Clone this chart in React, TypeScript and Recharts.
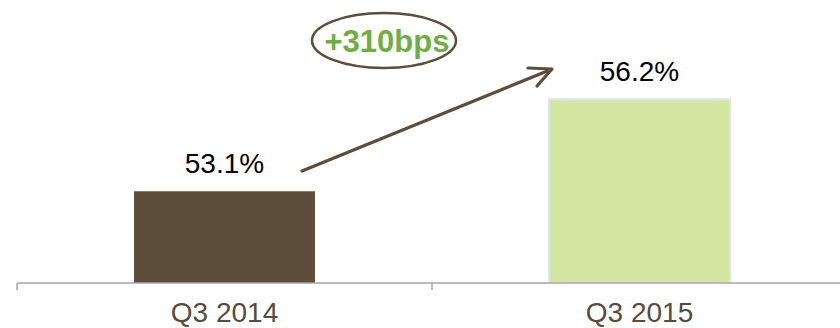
import React from 'react';
import { BarChart, Bar, XAxis, YAxis, Cell, LabelList, Customized } from 'recharts';

const categories = ['Q3 2014', 'Q3 2015'];
const values = [53.1, 56.2];
const valueLabels = ['53.1%', '56.2%'];
const barColors = ['#5C4E3A', '#D3E5A0'];
const barStrokes = ['none', '#DCE6EF'];
const yDomain: [number, number] = [50, 58];
const changeLabel = '+310bps';

const data = categories.map((c, i) => ({ name: c, value: values[i], label: valueLabels[i] }));

const CHART_W = 860;
const CHART_H = 328;
const MARGIN = { top: 46, right: 13, left: 17, bottom: 5 };
const PLOT_W = CHART_W - MARGIN.left - MARGIN.right;
const FONT = '"Liberation Sans", Arial, sans-serif';
const BROWN = '#5C4E3A';

const Tick = (props: any) => {
  const { x, y, payload, index } = props;
  const half = PLOT_W / categories.length / 2;
  const isLast = index === categories.length - 1;
  return (
    <g>
      <line x1={x - half} x2={x - half} y1={y} y2={y + 7} stroke="#A6A6A6" strokeWidth={1.5} />
      {isLast && <line x1={x + half} x2={x + half} y1={y} y2={y + 7} stroke="#A6A6A6" strokeWidth={1.5} />}
      <text x={x} y={y + 39} textAnchor="middle" fontFamily={FONT} fontSize={28} fill="#574B3E">
        {payload.value}
      </text>
    </g>
  );
};

const Annotation = () => (
  <g>
    <line x1={302} y1={171} x2={551} y2={69.5} stroke={BROWN} strokeWidth={3.2} strokeLinecap="round" />
    <polyline points="528,68 552,69 537,86" fill="none" stroke={BROWN} strokeWidth={3.2} strokeLinecap="round" strokeLinejoin="round" />
    <ellipse cx={384} cy={40.5} rx={72} ry={27.5} fill="none" stroke={BROWN} strokeWidth={2.5} />
    <text x={387} y={52} textAnchor="middle" fontFamily={FONT} fontWeight="bold" fontSize={31} fill="#70AD47">
      {changeLabel}
    </text>
  </g>
);

export default function App() {
  return (
    <div style={{ position: 'absolute', left: 0, top: 0, width: 840, height: 328, overflow: 'hidden', background: '#fff' }}>
      <BarChart width={CHART_W} height={CHART_H} data={data} margin={MARGIN}>
        <XAxis
          dataKey="name"
          height={40}
          tickLine={false}
          tickSize={0}
          tickMargin={0}
          axisLine={{ stroke: '#A6A6A6', strokeWidth: 1.5 }}
          tick={<Tick />}
          interval={0}
        />
        <YAxis hide domain={yDomain} allowDataOverflow />
        <Bar dataKey="value" barSize={181} isAnimationActive={false}>
          {data.map((d, i) => (
            <Cell key={d.name} fill={barColors[i]} stroke={barStrokes[i]} strokeWidth={2} />
          ))}
          <LabelList dataKey="label" position="top" offset={18} fontFamily={FONT} fontSize={28} fill="#000" />
        </Bar>
        <Customized component={<Annotation />} />
      </BarChart>
    </div>
  );
}
